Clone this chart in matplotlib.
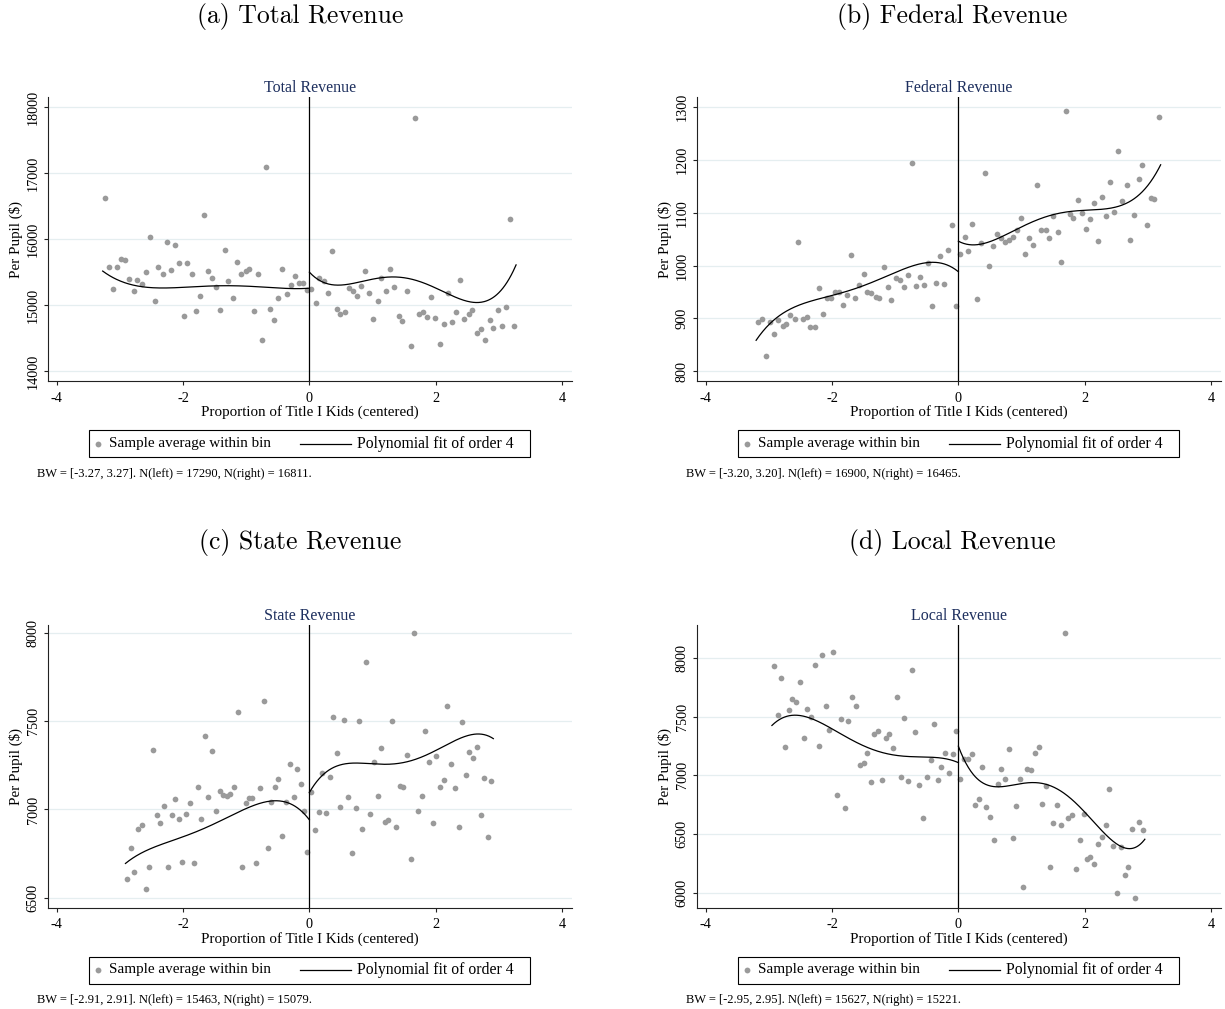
import numpy as np
import matplotlib
matplotlib.use("Agg")
import matplotlib.pyplot as plt
from matplotlib.lines import Line2D
from matplotlib.patches import Rectangle

plt.rcParams['axes.unicode_minus'] = False
SERIF = ['Liberation Serif', 'DejaVu Serif']
CAPFONT = ['cmr10', 'DejaVu Serif']

# ---------------- data ----------------
X_TOT_L = [-3.24, -3.17, -3.11, -3.04, -2.98, -2.91, -2.85, -2.78, -2.72, -2.65,
           -2.58, -2.52, -2.45, -2.39, -2.32, -2.26, -2.19, -2.13, -2.06, -1.99,
           -1.93, -1.86, -1.80, -1.73, -1.67, -1.60, -1.54, -1.47, -1.41, -1.34,
           -1.28, -1.21, -1.14, -1.08, -1.01, -0.95, -0.88, -0.82, -0.75, -0.69,
           -0.62, -0.56, -0.49, -0.43, -0.36, -0.29, -0.23, -0.16, -0.10, -0.03]
Y_TOT_L = [16631, 15581, 15242, 15571, 15702, 15677, 15399, 15212, 15374, 15323,
           15495, 16035, 15056, 15571, 15470, 15950, 15525, 15904, 15641, 14838,
           15631, 15470, 14909, 15136, 16364, 15515, 15409, 15273, 14929, 15838,
           15359, 15106, 15657, 15465, 15520, 15545, 14914, 15475, 14465, 17096,
           14934, 14768, 15101, 15540, 15172, 15298, 15434, 15328, 15328, 15232]
X_TOT_R = [0.03, 0.10, 0.16, 0.23, 0.29, 0.36, 0.43, 0.49, 0.56, 0.62,
           0.69, 0.75, 0.82, 0.88, 0.95, 1.01, 1.08, 1.14, 1.21, 1.28,
           1.34, 1.41, 1.47, 1.54, 1.60, 1.67, 1.73, 1.80, 1.86, 1.93,
           1.99, 2.06, 2.13, 2.19, 2.26, 2.32, 2.39, 2.45, 2.52, 2.58,
           2.65, 2.72, 2.78, 2.85, 2.91, 2.98, 3.04, 3.11, 3.17, 3.24]
Y_TOT_R = [15242, 15025, 15409, 15369, 15177, 15818, 14939, 14859, 14899, 15258,
           15207, 15131, 15293, 15520, 15187, 14788, 15066, 15414, 15207, 15545,
           15278, 14833, 14758, 15207, 14379, 17843, 14864, 14899, 14813, 15116,
           14798, 14404, 14717, 15177, 14748, 14889, 15379, 14783, 14869, 14924,
           14576, 14641, 14465, 14773, 14652, 14919, 14677, 14965, 16308, 14677]
FITX_TOT_L = [-3.27, -2.89, -2.58, -2.26, -2.00, -1.47, -0.94, -0.41, 0.0]
FITY_TOT_L = [15515, 15333, 15268, 15258, 15268, 15298, 15278, 15258, 15255]
FITX_TOT_R = [0.0, 0.17, 0.43, 0.91, 1.33, 1.70, 2.18, 2.66, 2.87, 3.08, 3.27]
FITY_TOT_R = [15510, 15359, 15288, 15399, 15424, 15359, 15182, 15035, 15081, 15308, 15596]

X_FED_L = [-3.17, -3.11, -3.04, -2.98, -2.91, -2.85, -2.78, -2.72, -2.66, -2.59,
           -2.53, -2.46, -2.40, -2.34, -2.27, -2.21, -2.14, -2.08, -2.02, -1.95,
           -1.89, -1.82, -1.76, -1.70, -1.63, -1.57, -1.50, -1.44, -1.38, -1.31,
           -1.25, -1.18, -1.12, -1.06, -0.99, -0.93, -0.86, -0.80, -0.74, -0.67,
           -0.61, -0.54, -0.48, -0.42, -0.35, -0.29, -0.22, -0.16, -0.10, -0.03]
Y_FED_L = [892.8, 898.5, 829.7, 892.8, 870.7, 897.9, 885.9, 889.6, 907.3, 898.5,
           1045.6, 898.5, 902.3, 883.3, 884.0, 958.5, 909.2, 938.3, 938.3, 950.9,
           950.9, 925.0, 944.6, 1019.7, 939.5, 964.1, 985.0, 950.9, 949.0, 940.2,
           938.3, 998.2, 959.7, 935.1, 976.8, 972.3, 959.7, 982.5, 1195.2, 961.6,
           978.7, 963.5, 1005.2, 924.4, 966.7, 1019.1, 966.0, 1030.4, 1077.1, 924.4]
X_FED_R = [0.03, 0.10, 0.16, 0.22, 0.29, 0.35, 0.42, 0.48, 0.54, 0.61,
           0.67, 0.74, 0.80, 0.86, 0.93, 0.99, 1.06, 1.12, 1.18, 1.25,
           1.31, 1.38, 1.44, 1.50, 1.57, 1.63, 1.70, 1.76, 1.82, 1.89,
           1.95, 2.02, 2.08, 2.14, 2.21, 2.27, 2.34, 2.40, 2.46, 2.53,
           2.59, 2.66, 2.72, 2.78, 2.85, 2.91, 2.98, 3.04, 3.10, 3.17]
Y_FED_R = [1022.2, 1053.8, 1028.5, 1079.0, 937.0, 1043.7, 1175.0, 998.9, 1037.4, 1060.1,
           1052.5, 1045.0, 1049.4, 1055.1, 1067.7, 1091.0, 1021.6, 1053.2, 1039.9, 1152.9,
           1067.0, 1067.0, 1053.2, 1093.6, 1064.5, 1006.4, 1293.7, 1098.0, 1091.0, 1123.9,
           1099.2, 1068.9, 1087.9, 1118.8, 1047.5, 1130.2, 1094.2, 1158.6, 1101.8, 1217.3,
           1122.0, 1153.5, 1048.7, 1095.5, 1163.6, 1190.2, 1077.1, 1128.3, 1125.8, 1281.7]
FITX_FED_L = [-3.20, -3.02, -2.81, -2.60, -2.33, -1.96, -1.65, -1.22, -0.80, -0.48, -0.27, 0.0]
FITY_FED_L = [858, 886, 908, 922, 932, 943, 957, 977, 996, 1006, 1004, 989]
FITX_FED_R = [0.0, 0.13, 0.29, 0.55, 0.92, 1.29, 1.72, 2.09, 2.45, 2.72, 2.98, 3.20]
FITY_FED_R = [1049, 1039, 1038, 1046, 1071, 1091, 1102, 1104, 1106, 1121, 1159, 1186]

X_STA_L = [-2.88, -2.82, -2.77, -2.71, -2.65, -2.59, -2.53, -2.47, -2.41, -2.36,
           -2.30, -2.24, -2.18, -2.12, -2.06, -2.01, -1.95, -1.89, -1.83, -1.77,
           -1.71, -1.65, -1.60, -1.54, -1.48, -1.42, -1.36, -1.30, -1.25, -1.19,
           -1.13, -1.07, -1.01, -0.95, -0.90, -0.84, -0.78, -0.72, -0.66, -0.60,
           -0.55, -0.49, -0.43, -0.37, -0.31, -0.25, -0.20, -0.14, -0.08, -0.03]
Y_STA_L = [6606, 6781, 6643, 6889, 6911, 6549, 6676, 7336, 6968, 6925,
           7021, 6676, 6968, 7057, 6947, 6702, 6977, 7038, 6696, 7126,
           6945, 7417, 7068, 7332, 6993, 7102, 7081, 7079, 7085, 7130,
           7551, 6676, 7036, 7066, 7066, 6694, 7119, 7613, 6779, 7042,
           7126, 7170, 6849, 7043, 7255, 7068, 7230, 7143, 6993, 6760]
X_STA_R = [0.03, 0.09, 0.15, 0.20, 0.26, 0.32, 0.38, 0.44, 0.49, 0.55,
           0.61, 0.67, 0.73, 0.79, 0.84, 0.90, 0.96, 1.02, 1.08, 1.14,
           1.19, 1.25, 1.31, 1.37, 1.43, 1.48, 1.54, 1.60, 1.66, 1.72,
           1.78, 1.83, 1.89, 1.95, 2.01, 2.07, 2.13, 2.18, 2.24, 2.30,
           2.36, 2.42, 2.47, 2.53, 2.59, 2.65, 2.71, 2.77, 2.82, 2.88]
Y_STA_R = [7098, 6883, 6987, 7204, 6981, 7183, 7525, 7319, 7013, 7506,
           7070, 6755, 7009, 7500, 6889, 7838, 6977, 7268, 7077, 7347,
           6930, 6940, 7504, 6900, 7132, 7128, 7306, 6717, 8000, 6993,
           7074, 7445, 7268, 6925, 7304, 7130, 7166, 7585, 7257, 7123,
           6900, 7494, 7198, 7323, 7289, 7353, 6968, 7181, 6843, 7162]
FITX_STA_L = [-2.91, -2.73, -2.52, -2.21, -1.89, -1.57, -1.26, -0.94, -0.62, -0.41, -0.20, 0.0]
FITY_STA_L = [6692, 6740, 6779, 6817, 6858, 6906, 6962, 7019, 7045, 7045, 7009, 6943]
FITX_STA_R = [0.0, 0.12, 0.28, 0.49, 0.91, 1.33, 1.60, 1.97, 2.29, 2.60, 2.76, 2.91]
FITY_STA_R = [7094, 7160, 7221, 7251, 7257, 7259, 7277, 7330, 7387, 7425, 7425, 7402]

X_LOC_L = [-2.92, -2.86, -2.80, -2.74, -2.68, -2.63, -2.57, -2.51, -2.45, -2.39,
           -2.33, -2.27, -2.21, -2.15, -2.09, -2.04, -1.98, -1.92, -1.86, -1.80,
           -1.74, -1.68, -1.62, -1.56, -1.50, -1.45, -1.39, -1.33, -1.27, -1.21,
           -1.15, -1.09, -1.03, -0.97, -0.91, -0.86, -0.80, -0.74, -0.68, -0.62,
           -0.56, -0.50, -0.44, -0.38, -0.32, -0.27, -0.21, -0.15, -0.09, -0.03]
Y_LOC_L = [7932, 7511, 7829, 7243, 7559, 7650, 7630, 7795, 7320, 7570,
           7499, 7943, 7255, 8023, 7596, 7383, 8054, 6836, 7485, 6725,
           7465, 7670, 7588, 7092, 7107, 7195, 6945, 7351, 7380, 6962,
           7320, 7357, 7232, 7667, 6987, 7488, 6953, 7898, 7371, 6922,
           6634, 6990, 7129, 7437, 6964, 7073, 7192, 7024, 7181, 7377]
X_LOC_R = [0.03, 0.09, 0.15, 0.21, 0.27, 0.32, 0.38, 0.44, 0.50, 0.56,
           0.62, 0.68, 0.74, 0.80, 0.86, 0.91, 0.97, 1.03, 1.09, 1.15,
           1.21, 1.27, 1.33, 1.39, 1.45, 1.50, 1.56, 1.62, 1.68, 1.74,
           1.80, 1.86, 1.92, 1.98, 2.04, 2.09, 2.15, 2.21, 2.27, 2.33,
           2.39, 2.45, 2.51, 2.57, 2.63, 2.68, 2.74, 2.80, 2.86, 2.92]
Y_LOC_R = [6973, 7144, 7144, 7186, 6745, 6802, 7070, 6731, 6643, 6447,
           6930, 7056, 6970, 7221, 6469, 6743, 6967, 6048, 7058, 7044,
           7195, 7243, 6757, 6913, 6219, 6592, 6748, 6578, 8213, 6640,
           6666, 6205, 6452, 6674, 6287, 6302, 6245, 6418, 6478, 6575,
           6882, 6401, 6000, 6393, 6154, 6216, 6543, 5957, 6603, 6535]
FITX_LOC_L = [-2.95, -2.81, -2.60, -2.39, -2.07, -1.75, -1.43, -1.11, -0.80, -0.48, -0.21, 0.0]
FITY_LOC_L = [7425, 7485, 7511, 7496, 7423, 7317, 7235, 7184, 7164, 7155, 7141, 7110]
FITX_LOC_R = [0.0, 0.13, 0.29, 0.50, 0.82, 1.14, 1.40, 1.66, 1.98, 2.30, 2.56, 2.72, 2.85, 2.95]
FITY_LOC_R = [7246, 7104, 6976, 6890, 6927, 6942, 6927, 6848, 6691, 6506, 6407, 6384, 6398, 6452]

CAPTIONS = ["(a) Total Revenue", "(b) Federal Revenue", "(c) State Revenue", "(d) Local Revenue"]
TITLES = ["Total Revenue", "Federal Revenue", "State Revenue", "Local Revenue"]
NOTES = ["BW = [-3.27, 3.27]. N(left) = 17290, N(right) = 16811.",
         "BW = [-3.20, 3.20]. N(left) = 16900, N(right) = 16465.",
         "BW = [-2.91, 2.91]. N(left) = 15463, N(right) = 15079.",
         "BW = [-2.95, 2.95]. N(left) = 15627, N(right) = 15221."]
YTICKS = [[14000, 15000, 16000, 17000, 18000],
          [800, 900, 1000, 1100, 1200, 1300],
          [6500, 7000, 7500, 8000],
          [6000, 6500, 7000, 7500, 8000]]
YLIMS = [(13848, 18152), (781.6, 1318.9), (6444, 8047), (5874, 8284)]
XTICKS = [-4, -2, 0, 2, 4]
XLIM = (-4.14, 4.15)
XLABEL = "Proportion of Title I Kids (centered)"
YLABEL = "Per Pupil ($)"
LEG_LABELS = ["Sample average within bin", "Polynomial fit of order 4"]

SERIES = [
    (X_TOT_L, Y_TOT_L, X_TOT_R, Y_TOT_R, FITX_TOT_L, FITY_TOT_L, FITX_TOT_R, FITY_TOT_R),
    (X_FED_L, Y_FED_L, X_FED_R, Y_FED_R, FITX_FED_L, FITY_FED_L, FITX_FED_R, FITY_FED_R),
    (X_STA_L, Y_STA_L, X_STA_R, Y_STA_R, FITX_STA_L, FITY_STA_L, FITX_STA_R, FITY_STA_R),
    (X_LOC_L, Y_LOC_L, X_LOC_R, Y_LOC_R, FITX_LOC_L, FITY_LOC_L, FITX_LOC_R, FITY_LOC_R),
]

# ---------------- layout (pixels) ----------------
W, H = 1225, 1009
fig = plt.figure(figsize=(W / 100, H / 100), dpi=100)
fig.patch.set_facecolor('white')

# (left, top, right, bottom) of each plot region, in pixels
BOXES = [(47.7, 97.3, 571.7, 381.0), (696.7, 97.3, 1220.7, 381.0),
         (47.7, 624.8, 571.7, 907.5), (696.7, 624.8, 1220.7, 907.5)]
CAP_X = [300, 952, 300, 952]
CAP_Y = [17, 17, 543, 543]

DOT = '#9a9a9a'
GRID = '#e5eef0'
NAVY = '#1d2f5e'


def fx(px):
    return px / W


def fy(py):
    return 1 - py / H


def smooth(xs, ys):
    c = np.polyfit(xs, ys, 4)
    xx = np.linspace(xs[0], xs[-1], 300)
    return xx, np.polyval(c, xx)


for i in range(4):
    l, t, r, b = BOXES[i]
    ax = fig.add_axes([fx(l), fy(b), (r - l) / W, (b - t) / H])
    xl, yl, xr, yr, fxl, fyl, fxr, fyr = SERIES[i]

    ax.set_xlim(*XLIM)
    ax.set_ylim(*YLIMS[i])
    ax.set_yticks(YTICKS[i])
    ax.set_xticks(XTICKS)
    ax.yaxis.grid(True, color=GRID, lw=0.9)
    ax.set_axisbelow(True)

    ax.scatter(xl, yl, s=17, color=DOT, linewidths=0, zorder=3)
    ax.scatter(xr, yr, s=17, color=DOT, linewidths=0, zorder=3)
    for xs, ys in ((fxl, fyl), (fxr, fyr)):
        xx, yy = smooth(xs, ys)
        ax.plot(xx, yy, color='black', lw=0.9, zorder=4)
    ax.axvline(0, color='black', lw=0.9, zorder=4)

    for s in ('top', 'right'):
        ax.spines[s].set_visible(False)
    for s in ('left', 'bottom'):
        ax.spines[s].set_color('#222222')
        ax.spines[s].set_linewidth(0.8)
    ax.tick_params(direction='out', length=3.2, width=0.8, color='#222222',
                   labelsize=10.3, pad=2.5)
    ax.tick_params(axis='x', pad=4.5)
    for lbl in ax.get_xticklabels() + ax.get_yticklabels():
        lbl.set_family(SERIF)
    for lbl in ax.get_yticklabels():
        lbl.set_rotation(90)
        lbl.set_va('center')

    ax.set_xlabel(XLABEL, family=SERIF, fontsize=10.8, labelpad=0.5)
    ax.set_ylabel(YLABEL, family=SERIF, fontsize=10.8, labelpad=3)

    # plot title (inside graph region, above plot area)
    fig.text(fx((l + r) / 2), fy(t - 9), TITLES[i], family=SERIF, fontsize=11.5,
             color=NAVY, ha='center', va='center')

    # subfigure caption
    fig.text(fx(CAP_X[i]), fy(CAP_Y[i]), CAPTIONS[i], family=CAPFONT, fontsize=18.5,
             ha='center', va='center')

    # legend box
    lb_l, lb_t = l + 41.3, b + 49
    lb_r, lb_b = lb_l + 441, lb_t + 27
    fig.add_artist(Rectangle((fx(lb_l), fy(lb_b)), (lb_r - lb_l) / W, (lb_b - lb_t) / H,
                             transform=fig.transFigure, facecolor='white',
                             edgecolor='black', lw=0.8))
    ymid = (lb_t + lb_b) / 2
    fig.add_artist(Line2D([fx(lb_l + 9)], [fy(ymid)], transform=fig.transFigure,
                          marker='o', markersize=4.2, color=DOT, markeredgewidth=0,
                          linestyle='none'))
    fig.text(fx(lb_l + 20), fy(ymid), LEG_LABELS[0], family=SERIF, fontsize=10.9,
             ha='left', va='center')
    fig.add_artist(Line2D([fx(lb_l + 211), fx(lb_l + 262)], [fy(ymid), fy(ymid)],
                          transform=fig.transFigure, color='black', lw=0.9))
    fig.text(fx(lb_l + 268), fy(ymid), LEG_LABELS[1], family=SERIF, fontsize=11.3,
             ha='left', va='center')

    # note
    fig.text(fx(l - 11), fy(b + 93), NOTES[i], family=SERIF, fontsize=9.0,
             ha='left', va='center')

fig.savefig('out.png', dpi=100, facecolor='white')
